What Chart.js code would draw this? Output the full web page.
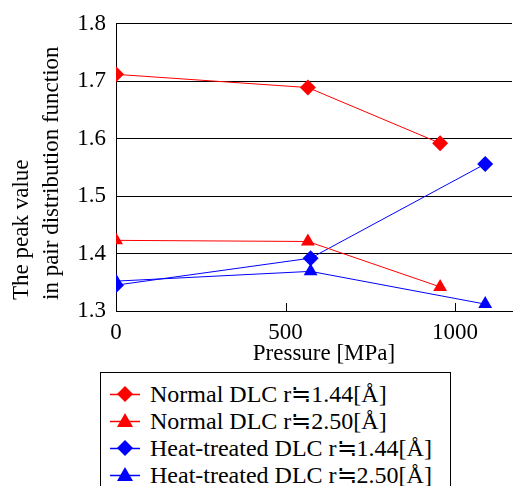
<!DOCTYPE html>
<html>
<head>
<meta charset="utf-8">
<script src="https://cdn.jsdelivr.net/npm/chart.js@4.4.1/dist/chart.umd.min.js"></script>
<style>
  body { margin: 0; background: #fff; }
  #wrap { position: relative; width: 520px; height: 486px; overflow: hidden; }
  #legend {
    position: absolute; left: 100px; top: 372px; width: 351px; height: 140px;
    border: 1px solid #000; box-sizing: border-box;
    font-family: 'Liberation Serif', 'Noto Sans CJK JP', serif; font-size: 24px; color: #000;
    padding-top: 7px;
  }
  .row { display: flex; align-items: center; height: 27px; white-space: nowrap; }
  .row svg { margin-left: 9px; margin-right: 10px; flex: none; }
</style>
</head>
<body>
<div id="wrap">
  <canvas id="chart" width="520" height="372"></canvas>
  <div id="legend"></div>
</div>
<script>
// pressure [MPa] and peak values
const normalPressure = [0, 566, 956];
const heatPressure = [0, 574, 1089];
const normal144 = [1.712, 1.689, 1.592];
const normal250 = [1.423, 1.421, 1.342];
const heat144 = [1.345, 1.392, 1.556];
const heat250 = [1.352, 1.369, 1.312];
const xTickValues = [0, 500, 1000];
const yTickValues = [1.3, 1.4, 1.5, 1.6, 1.7, 1.8];
const xTitle = 'Pressure [MPa]';
const yTitleLines = ['The peak value', 'in pair distribution function'];

const seriesLabels = [
  'Normal DLC r\u22521.44[\u00c5]',
  'Normal DLC r\u22522.50[\u00c5]',
  'Heat-treated DLC r\u22521.44[\u00c5]',
  'Heat-treated DLC r\u22522.50[\u00c5]'
];

const serif = "'Liberation Serif', 'Times New Roman', serif";

function pts(xs, ys) {
  return xs.map((x, i) => ({ x: x, y: ys[i] }));
}

const datasets = [
  { label: seriesLabels[0], data: pts(normalPressure, normal144), color: '#ff0000', pointStyle: 'rectRot' },
  { label: seriesLabels[1], data: pts(normalPressure, normal250), color: '#ff0000', pointStyle: 'triangle' },
  { label: seriesLabels[2], data: pts(heatPressure, heat144), color: '#0000ff', pointStyle: 'rectRot' },
  { label: seriesLabels[3], data: pts(heatPressure, heat250), color: '#0000ff', pointStyle: 'triangle' }
].map(d => ({
  label: d.label,
  data: d.data,
  borderColor: d.color,
  backgroundColor: d.color,
  borderWidth: 1,
  pointStyle: d.pointStyle,
  pointRadius: 8,
  pointBorderWidth: 0,
  pointBackgroundColor: d.color
}));

// small tick marks pointing up into the plot + axis titles
const extras = {
  id: 'extras',
  afterDraw(chart) {
    const ctx = chart.ctx;
    const xs = chart.scales.x;
    const bottom = chart.chartArea.bottom;
    ctx.save();
    ctx.strokeStyle = '#000';
    ctx.lineWidth = 1;
    xTickValues.forEach(v => {
      if (v === 0) return;
      const px = Math.round(xs.getPixelForValue(v)) + 0.5;
      ctx.beginPath();
      ctx.moveTo(px, bottom);
      ctx.lineTo(px, bottom - 8);
      ctx.stroke();
    });
    ctx.fillStyle = '#000';
    ctx.font = '23px ' + serif;
    ctx.textBaseline = 'middle';
    ctx.textAlign = 'center';
    ctx.fillText(xTitle, 324, 354);
    ctx.textAlign = 'left';
    yTitleLines.forEach((line, i) => {
      ctx.save();
      ctx.translate(22 + i * 30, 300);
      ctx.rotate(-Math.PI / 2);
      ctx.fillText(line, 0, 0);
      ctx.restore();
    });
    ctx.restore();
  }
};

new Chart(document.getElementById('chart'), {
  type: 'line',
  data: { datasets: datasets },
  options: {
    responsive: false,
    animation: false,
    layout: { padding: { top: 22, right: 0, left: 0, bottom: 0 } },
    plugins: { legend: { display: false }, tooltip: { enabled: false } },
    scales: {
      x: {
        type: 'linear',
        min: 0,
        max: 1168,
        afterBuildTicks(scale) { scale.ticks = xTickValues.map(v => ({ value: v })); },
        afterFit(scale) { scale.height = 61; },
        grid: { display: false },
        border: { color: '#000', width: 1 },
        ticks: { color: '#000', font: { family: serif, size: 23 }, padding: 0, maxRotation: 0, callback: v => String(v) }
      },
      y: {
        min: 1.3,
        max: 1.8,
        afterBuildTicks(scale) { scale.ticks = yTickValues.map(v => ({ value: v })); },
        afterFit(scale) { scale.width = 116; },
        grid: { color: '#000', lineWidth: 1, drawTicks: false },
        border: { color: '#000', width: 1 },
        ticks: { color: '#000', font: { family: serif, size: 23 }, padding: 10, callback: v => v.toFixed(1) }
      }
    }
  },
  plugins: [extras]
});

// legend box below the plot
const legend = document.getElementById('legend');
datasets.forEach(d => {
  const row = document.createElement('div');
  row.className = 'row';
  const marker = d.pointStyle === 'rectRot'
    ? '<polygon points="15,6 23,14 15,22 7,14" fill="' + d.borderColor + '"/>'
    : '<polygon points="15,6 23,20 7,20" fill="' + d.borderColor + '"/>';
  row.innerHTML = '<svg width="30" height="28"><line x1="0" y1="14.5" x2="30" y2="14.5" stroke="' +
    d.borderColor + '" stroke-width="1.5"/>' + marker + '</svg><span>' + d.label + '</span>';
  legend.appendChild(row);
});
</script>
</body>
</html>
